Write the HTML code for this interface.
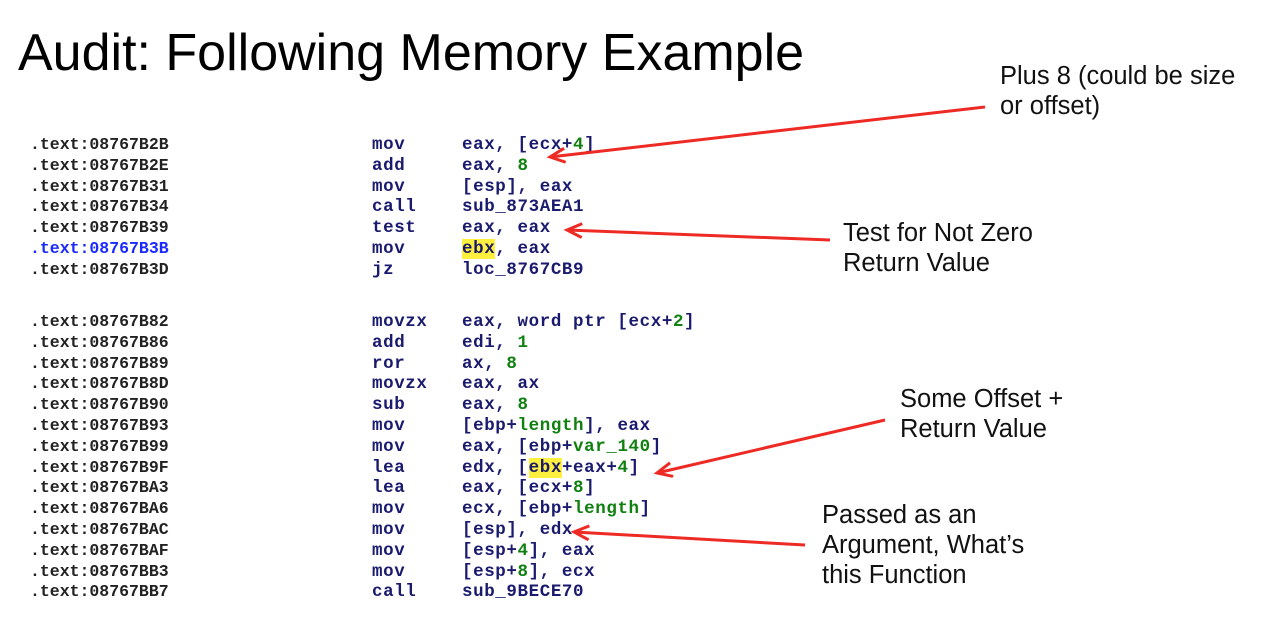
<!DOCTYPE html>
<html><head><style>
body{margin:0;width:1268px;height:622px;background:#fff;position:relative;overflow:hidden;font-family:"Liberation Sans",sans-serif}
.t{position:absolute;left:18px;top:23px;font-size:52px;color:#000;white-space:nowrap}
.n{position:absolute;font-size:25.5px;line-height:30px;color:#111;white-space:nowrap}
.code{position:absolute;font-family:"Liberation Mono",monospace;font-weight:bold;white-space:pre;line-height:20.8px}
.a{left:30px;font-size:16.5px;color:#222}
.m{left:372px;font-size:17.5px;color:#1a1a6e;letter-spacing:0.6px}
.o{left:462px;font-size:17.5px;color:#1a1a6e;letter-spacing:0.6px}
.g{color:#108010}.b{color:#1a2aff}.h{background:#fff040}
</style></head><body>
<div class="t">Audit: Following Memory Example</div>
<div class="code a" style="top:135px">.text:08767B2B
.text:08767B2E
.text:08767B31
.text:08767B34
.text:08767B39
<span class="b">.text:08767B3B</span>
.text:08767B3D</div>
<div class="code m" style="top:135px">mov
add
mov
call
test
mov
jz</div>
<div class="code o" style="top:135px">eax, [ecx+<span class="g">4</span>]
eax, <span class="g">8</span>
[esp], eax
sub_873AEA1
eax, eax
<span class="h">ebx</span>, eax
loc_8767CB9</div>
<div class="code a" style="top:312px">.text:08767B82
.text:08767B86
.text:08767B89
.text:08767B8D
.text:08767B90
.text:08767B93
.text:08767B99
.text:08767B9F
.text:08767BA3
.text:08767BA6
.text:08767BAC
.text:08767BAF
.text:08767BB3
.text:08767BB7</div>
<div class="code m" style="top:312px">movzx
add
ror
movzx
sub
mov
mov
lea
lea
mov
mov
mov
mov
call</div>
<div class="code o" style="top:312px">eax, word ptr [ecx+<span class="g">2</span>]
edi, <span class="g">1</span>
ax, <span class="g">8</span>
eax, ax
eax, <span class="g">8</span>
[ebp+<span class="g">length</span>], eax
eax, [ebp+<span class="g">var_140</span>]
edx, [<span class="h">ebx</span>+eax+<span class="g">4</span>]
eax, [ecx+<span class="g">8</span>]
ecx, [ebp+<span class="g">length</span>]
[esp], edx
[esp+<span class="g">4</span>], eax
[esp+<span class="g">8</span>], ecx
sub_9BECE70</div>
<div class="n" style="left:1000px;top:61px">Plus 8 (could be size<br>or offset)</div>
<div class="n" style="left:843px;top:218px">Test for Not Zero<br>Return Value</div>
<div class="n" style="left:900px;top:384px">Some Offset +<br>Return Value</div>
<div class="n" style="left:822px;top:500px">Passed as an<br>Argument, What’s<br>this Function</div>
<svg width="1268" height="622" style="position:absolute;left:0;top:0">
<defs><marker id="ah" markerWidth="20" markerHeight="20" refX="16" refY="8" orient="auto" markerUnits="userSpaceOnUse"><path d="M1,1 L16,8 L1,15" fill="none" stroke="#ee2a24" stroke-width="3"/></marker></defs>
<g stroke="#ee2a24" stroke-width="3" fill="none">
<line x1="985" y1="107" x2="550" y2="157" marker-end="url(#ah)"/>
<line x1="830" y1="240" x2="567" y2="230" marker-end="url(#ah)"/>
<line x1="885" y1="420" x2="657" y2="473" marker-end="url(#ah)"/>
<line x1="805" y1="545" x2="574" y2="532" marker-end="url(#ah)"/>
</g></svg>
</body></html>
